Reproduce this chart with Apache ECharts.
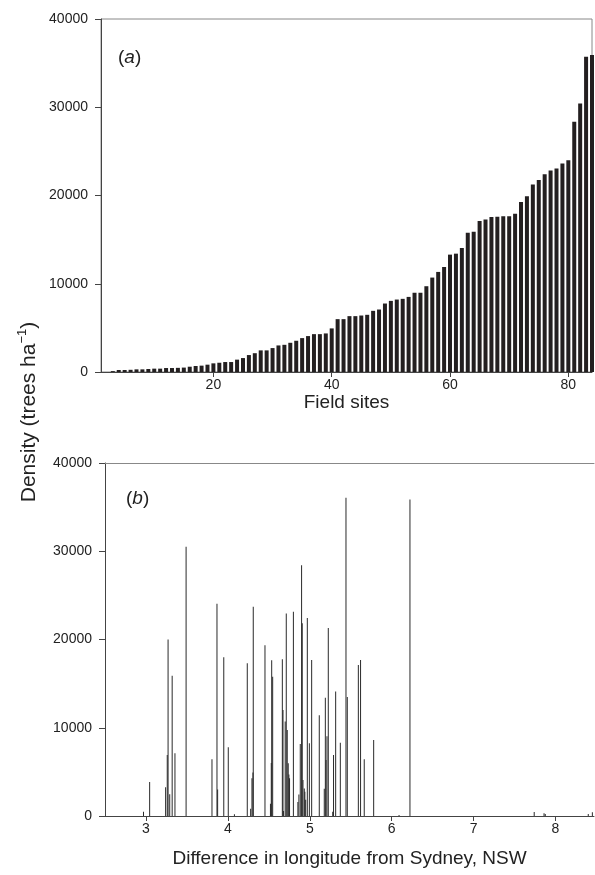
<!DOCTYPE html>
<html>
<head>
<meta charset="utf-8">
<script src="https://cdn.jsdelivr.net/npm/echarts@6/dist/echarts.min.js"></script>
<style>
  html, body { margin: 0; padding: 0; background: #fff; }
  #chart { width: 595px; height: 875px; }
</style>
</head>
<body>
<div id="chart"></div>
<script>
// (a) density per field site, sites ranked by density
const siteNo = [1, 2, 3, 4, 5, 6, 7, 8, 9, 10, 11, 12, 13, 14, 15, 16, 17, 18, 19, 20,
  21, 22, 23, 24, 25, 26, 27, 28, 29, 30, 31, 32, 33, 34, 35, 36, 37, 38, 39, 40,
  41, 42, 43, 44, 45, 46, 47, 48, 49, 50, 51, 52, 53, 54, 55, 56, 57, 58, 59, 60,
  61, 62, 63, 64, 65, 66, 67, 68, 69, 70, 71, 72, 73, 74, 75, 76, 77, 78, 79, 80,
  81, 82, 83, 84];
const siteDensity = [0, 0, 100, 230, 230, 250, 300, 300, 340, 380, 380, 450, 450, 470, 500, 600, 680, 720, 830, 980,
  1050, 1130, 1130, 1400, 1580, 1920, 2130, 2450, 2450, 2710, 3010, 3080, 3310, 3540, 3840, 4070, 4290, 4290, 4370, 4940,
  5990, 5990, 6330, 6330, 6400, 6480, 6930, 7080, 7760, 8060, 8210, 8290, 8510, 8980, 8980, 9720, 10700, 11340, 11900, 13300,
  13410, 14050, 15780, 15900, 17100, 17290, 17550, 17590, 17660, 17660, 17930, 19250, 19920, 21240, 21770, 22410, 22830, 23050, 23620, 23990,
  28360, 30430, 35710, 35930];
const siteTicks = [20, 40, 60, 80];

// (b) density against longitude difference
const lonDiff = [2.97, 3.045, 3.24, 3.26, 3.27, 3.29, 3.32, 3.354, 3.49, 3.806,
  3.867, 3.875, 3.95, 4.005, 4.08, 4.237, 4.278, 4.294, 4.306, 4.31,
  4.453, 4.52, 4.53, 4.535, 4.547, 4.665, 4.673, 4.68, 4.70, 4.713,
  4.725, 4.737, 4.745, 4.753, 4.80, 4.855, 4.867, 4.884, 4.90, 4.908,
  4.917, 4.933, 4.94, 4.95, 4.97, 4.995, 5.023, 5.116, 5.177, 5.19,
  5.198, 5.21, 5.226, 5.28, 5.29, 5.316, 5.373, 5.442, 5.458, 5.593,
  5.62, 5.665, 5.78, 6.09, 6.223, 7.74, 7.86, 7.875, 8.40, 8.45];
const lonDensity = [470, 3850, 3250, 6910, 20000, 2460, 15900, 7100, 30500, 6420,
  24050, 3000, 18000, 7800, 200, 17300, 820, 4270, 4920, 23700,
  19350, 1380, 6000, 17650, 15780, 17750, 12000, 580, 10700, 22950,
  9750, 5980, 4700, 4270, 23150, 1600, 2430, 8160, 28400, 21850,
  4080, 3120, 2750, 1850, 22450, 8230, 17680, 11420, 3100, 13400,
  6340, 9050, 21300, 490, 6900, 14100, 8300, 36050, 13480, 17100,
  17680, 6420, 8600, 120, 35850, 450, 300, 220, 220, 420];
const lonTicks = [3, 4, 5, 6, 7, 8];

const font = "'Liberation Sans', Arial, sans-serif";
const ink = '#222';

const chart = echarts.init(document.getElementById('chart'), null, { renderer: 'canvas' });

function xAxisCfg(gridIndex, min, max, ticks, name, gap) {
  return {
    type: 'value', gridIndex: gridIndex, min: min, max: max,
    name: name, nameLocation: 'middle', nameGap: gap,
    nameTextStyle: { fontFamily: font, fontSize: 19, color: ink },
    axisLine: { show: true, lineStyle: { color: '#444', width: 1 } },
    axisTick: { show: true, length: 5, customValues: ticks, lineStyle: { color: '#444' } },
    axisLabel: { customValues: ticks, margin: 6, fontFamily: font, fontSize: 14, color: ink },
    splitLine: { show: false }
  };
}
function yAxisCfg(gridIndex) {
  return {
    type: 'value', gridIndex: gridIndex, min: 0, max: 40000, interval: 10000,
    axisLine: { show: true, lineStyle: { color: '#444', width: 1 } },
    axisTick: { show: true, length: 6, lineStyle: { color: '#444' } },
    axisLabel: { margin: 13, fontFamily: font, fontSize: 14, color: ink, formatter: v => String(v) },
    splitLine: { show: false }
  };
}
function panelLabel(letter, x, y) {
  return {
    type: 'text', left: x, top: y,
    style: {
      text: '{n|(}{i|' + letter + '}{n|)}',
      rich: {
        n: { fontFamily: font, fontSize: 19, fill: ink },
        i: { fontFamily: font, fontSize: 19, fontStyle: 'italic', fill: ink }
      }
    }
  };
}

chart.setOption({
  animation: false,
  grid: [
    { left: 101, top: 19, width: 491, height: 353, show: true, borderColor: '#888', borderWidth: 1 },
    { left: 105, top: 463, width: 489, height: 353, show: false }
  ],
  xAxis: [
    xAxisCfg(0, 1, 84, siteTicks, 'Field sites', 15),
    xAxisCfg(1, 2.5, 8.47, lonTicks, 'Difference in longitude from Sydney, NSW', 33),
    {
      // top frame line of panel (b); the right side runs off the page
      type: 'value', gridIndex: 1, position: 'top', min: 2.5, max: 8.47,
      axisLine: { show: true, lineStyle: { color: '#888', width: 1 } },
      axisTick: { show: false }, axisLabel: { show: false }, splitLine: { show: false }
    }
  ],
  yAxis: [yAxisCfg(0), yAxisCfg(1)],
  series: [
    {
      type: 'bar', xAxisIndex: 0, yAxisIndex: 0, barWidth: 4,
      itemStyle: { color: '#231f20' },
      data: siteNo.map((s, i) => [s, siteDensity[i]])
    },
    {
      type: 'bar', xAxisIndex: 1, yAxisIndex: 1, barWidth: 1,
      itemStyle: { color: '#2a2a2a' },
      data: lonDiff.map((l, i) => [l, lonDensity[i]])
    }
  ],
  graphic: [
    panelLabel('a', 118, 48),
    panelLabel('b', 126, 489),
    {
      type: 'text', x: 28, y: 412, rotation: Math.PI / 2,
      style: {
        text: '{t|Density (trees ha}{s|−1}{t|)}',
        align: 'center', verticalAlign: 'middle',
        rich: {
          t: { fontFamily: font, fontSize: 21, fill: ink, lineHeight: 24, verticalAlign: 'bottom' },
          s: { fontFamily: font, fontSize: 13, fill: ink, lineHeight: 24, verticalAlign: 'top' }
        }
      }
    }
  ]
});
</script>
</body>
</html>
